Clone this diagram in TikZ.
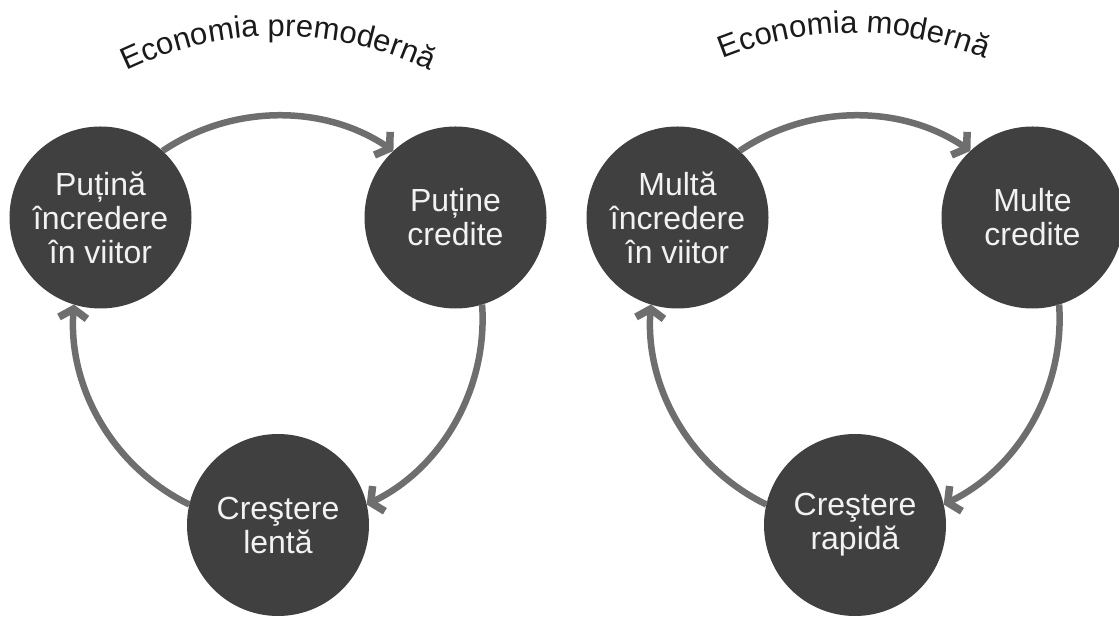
\documentclass[tikz,border=0pt]{standalone}
\usepackage{fontspec}
\setmainfont{Liberation Sans}
\usepackage{tikz}
\usetikzlibrary{arrows.meta,decorations.text}
\definecolor{disc}{HTML}{404040}
\definecolor{ring}{HTML}{6E6E6E}
\definecolor{disctext}{HTML}{F2F2F2}
\definecolor{titleink}{HTML}{1A1A1A}

\begin{document}
\begin{tikzpicture}[x=1pt,y=1pt]
 \tikzset{bubble/.style={circle,fill=disc,text=disctext,minimum size=182pt,inner sep=0pt,outer sep=0pt,align=center,font=\fontsize{32}{34}\selectfont}}
 \tikzset{flow/.style={draw=ring,line width=6.5pt,-{Straight Barb[length=9pt,width=28pt,line width=7.5pt]},looseness=0.93}}
 \tikzset{heading/.style={decorate,decoration={text along path,text align=center,text color=titleink,text={|\fontsize{31}{36}\selectfont|#1}}}}
 \useasboundingbox (0,0) rectangle (1119,618);

 \path[heading={Economia premodernă}] (278,234) ++(125:348) arc[start angle=125,end angle=55,radius=348];
 \path[heading={Economia modernă}] (854,237) ++(125:348) arc[start angle=125,end angle=55,radius=348];

 \node[bubble] (trustlow) at (100.5,400.5) {Puțină\\încredere\\în viitor};
 \node[bubble] (creditlow) at (455.5,400.5) {Puține\\credite};
 \node[bubble] (growthlow) at (278,93) {Creştere\\lentă};

 \node[bubble] (trusthigh) at (677.5,400.5) {Multă\\încredere\\în viitor};
 \node[bubble] (credithigh) at (1032.5,400.5) {Multe\\credite};
 \node[bubble] (growthhigh) at (855,93) {Creştere\\rapidă};

 \draw[flow] (trustlow.47) to[out=34,in=146] (creditlow.133);
 \draw[flow] (creditlow.287) to[out=-86,in=26] (growthlow.13);
 \draw[flow] (growthlow.167) to[out=154,in=266] (trustlow.253);

 \draw[flow] (trusthigh.47) to[out=34,in=146] (credithigh.133);
 \draw[flow] (credithigh.287) to[out=-86,in=26] (growthhigh.13);
 \draw[flow] (growthhigh.167) to[out=154,in=266] (trusthigh.253);
\end{tikzpicture}
\end{document}
